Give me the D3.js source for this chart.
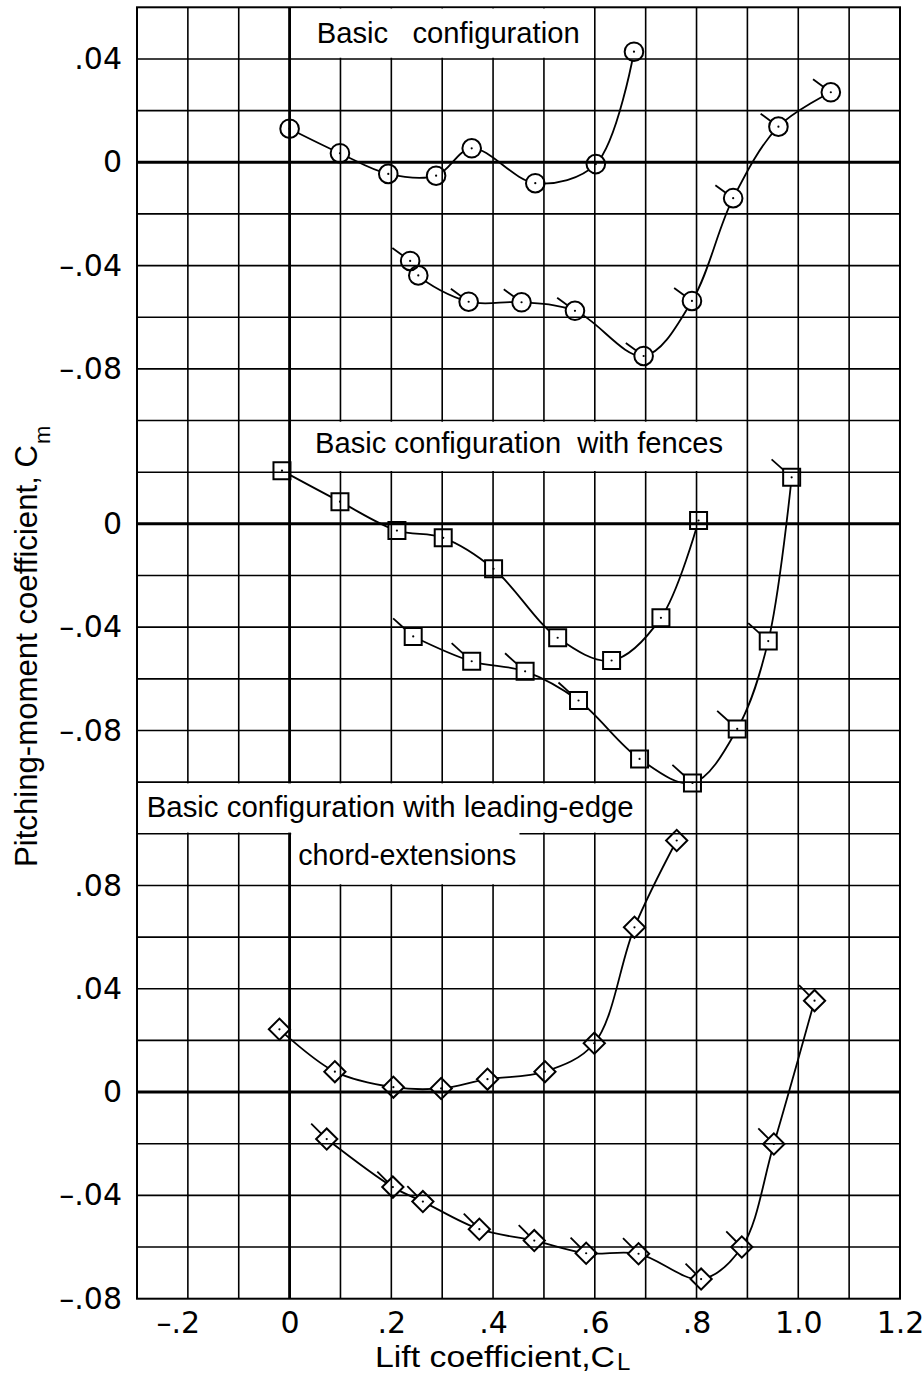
<!DOCTYPE html>
<html>
<head>
<meta charset="utf-8">
<script src="https://cdn.jsdelivr.net/npm/d3@7"></script>
<style>
  body { margin: 0; background: #fff; }
  svg text { fill: #000; }
</style>
</head>
<body>
<svg id="chart" width="924" height="1376"></svg>
<script>
// pitching moment vs lift coefficient, three configurations on one grid

// tick values / labels
const xTicks = [-0.2, 0, 0.2, 0.4, 0.6, 0.8, 1.0, 1.2];
const xTickLabels = ["–.2", "0", ".2", ".4", ".6", ".8", "1.0", "1.2"];

const topTicks = [0.04, 0, -0.04, -0.08];
const topTickLabels = [".04", "0", "–.04", "–.08"];
const midTicks = [0, -0.04, -0.08];
const midTickLabels = ["0", "–.04", "–.08"];
const botTicks = [0.08, 0.04, 0, -0.04, -0.08];
const botTickLabels = [".08", ".04", "0", "–.04", "–.08"];

const panelTitles = [
  "Basic\u00a0\u00a0 configuration",
  "Basic configuration\u00a0 with fences",
  "Basic configuration with leading-edge",
  "chord-extensions"
];

// data: [CL, Cm]
const basicUpper = [[0.000, 0.0130], [0.099, 0.0035], [0.194, -0.0045], [0.288, -0.0052],
  [0.358, 0.0054], [0.483, -0.0081], [0.602, -0.0007], [0.677, 0.0428]];
const basicLower = [[0.237, -0.0382], [0.253, -0.0438], [0.352, -0.0540], [0.456, -0.0542],
  [0.561, -0.0575], [0.696, -0.0750], [0.791, -0.0537], [0.872, -0.0139], [0.961, 0.0138], [1.064, 0.0271]];
const basicLowerFlags = [1, 0, 1, 1, 1, 1, 1, 1, 1, 1];

const fencesUpper = [[-0.015, 0.0206], [0.099, 0.0086], [0.211, -0.0026], [0.302, -0.0054],
  [0.401, -0.0174], [0.527, -0.0441], [0.633, -0.0529], [0.730, -0.0364], [0.804, 0.0013]];
const fencesLower = [[0.243, -0.0436], [0.358, -0.0532], [0.463, -0.0571], [0.568, -0.0684],
  [0.688, -0.0910], [0.792, -0.1003], [0.880, -0.0794], [0.941, -0.0454], [0.987, 0.0180]];
const fencesLowerFlags = [1, 1, 1, 1, 0, 1, 1, 1, 1];

const extUpper = [[-0.020, 0.0243], [0.089, 0.0079], [0.204, 0.0019], [0.298, 0.0014],
  [0.389, 0.0050], [0.502, 0.0079], [0.599, 0.0189], [0.678, 0.0638], [0.761, 0.0974]];
const extLower = [[0.073, -0.0182], [0.203, -0.0368], [0.262, -0.0424], [0.373, -0.0531],
  [0.481, -0.0575], [0.583, -0.0624], [0.686, -0.0626], [0.809, -0.0724], [0.889, -0.0600],
  [0.952, -0.0201], [1.032, 0.0354]];
const extLowerFlags = [1, 1, 1, 1, 1, 1, 1, 1, 1, 1, 1];

const svg = d3.select("#chart");
const width = 924;
const height = 1376;
const plotLeft = 137, plotRight = 900, plotTop = 7.3, plotBottom = 1298.7;

// one x scale, one y scale per panel (all share the same grid)
const x = d3.scaleLinear().domain([-0.3, 1.2]).range([plotLeft, plotRight]);
const yTop = d3.scaleLinear().domain([0.06, -0.44]).range([plotTop, plotBottom]);
const yMid = d3.scaleLinear().domain([0.20, -0.30]).range([plotTop, plotBottom]);
const yBot = d3.scaleLinear().domain([0.42, -0.08]).range([plotTop, plotBottom]);

const textFont = "'Liberation Sans', Arial, sans-serif";
const numFont = "'DejaVu Sans', sans-serif";

// grid
const xGrid = d3.range(-2, 12).map(i => i / 10);
const yGrid = d3.range(1, 25).map(i => 0.06 - i * 0.02);

const grid = svg.append("g").attr("stroke", "#000").attr("stroke-width", 1.6);
grid.selectAll(".vx").data(xGrid).join("line")
  .attr("x1", d => x(d)).attr("x2", d => x(d))
  .attr("y1", plotTop).attr("y2", plotBottom);
grid.selectAll(".hy").data(yGrid).join("line")
  .attr("x1", plotLeft).attr("x2", plotRight)
  .attr("y1", d => yTop(d)).attr("y2", d => yTop(d));

// heavy zero lines
const zeros = svg.append("g").attr("stroke", "#000").attr("stroke-width", 3);
[yTop(0), yMid(0), yBot(0)].forEach(yy => {
  zeros.append("line").attr("x1", plotLeft).attr("x2", plotRight).attr("y1", yy).attr("y2", yy);
});
zeros.append("line").attr("x1", x(0)).attr("x2", x(0)).attr("y1", plotTop).attr("y2", plotBottom)
  .attr("stroke-width", 2.8);

// frame
svg.append("rect")
  .attr("x", plotLeft).attr("y", plotTop)
  .attr("width", plotRight - plotLeft).attr("height", plotBottom - plotTop)
  .attr("fill", "none").attr("stroke", "#000").attr("stroke-width", 2);

// white label boxes knocked out of the grid
const boxes = [
  { x0: 0, x1: 0.6, y0: yTop(0.06), y1: yTop(0.04) },
  { x0: 0, x1: 0.9, y0: yMid(0.04), y1: yMid(0.02) },
  { x0: -0.3, x1: 0.7, y0: yBot(0.12), y1: yBot(0.10) },
  { x0: 0, x1: 0.455, y0: yBot(0.10) - 3, y1: yBot(0.08) }
];
svg.append("g").selectAll("rect").data(boxes).join("rect")
  .attr("x", d => x(d.x0) + 1.6)
  .attr("y", d => d.y0 + 1.2)
  .attr("width", d => x(d.x1) - x(d.x0) - 3.2)
  .attr("height", d => d.y1 - d.y0 - 2.4)
  .attr("fill", "#fff");

// panel titles
const titlePos = [
  { x: 316.7, y: 42.5, len: 263 },
  { x: 315, y: 453.3, len: 408 },
  { x: 146.7, y: 816.7, len: 487 },
  { x: 298.3, y: 865, len: 218 }
];
svg.append("g").selectAll("text").data(panelTitles).join("text")
  .attr("x", (d, i) => titlePos[i].x)
  .attr("y", (d, i) => titlePos[i].y)
  .attr("textLength", (d, i) => titlePos[i].len)
  .attr("lengthAdjust", "spacingAndGlyphs")
  .style("font-family", textFont)
  .style("font-size", "30px")
  .text(d => d);

// markers
const shapes = {
  circle:  { path: d3.symbol(d3.symbolCircle, Math.PI * 9.3 * 9.3)(), rot: 0,  fIn: 9.3, fOut: 22, ang: 36 },
  square:  { path: d3.symbol(d3.symbolSquare, 17 * 17)(),            rot: 0,  fIn: 11.5, fOut: 27, ang: 42 },
  diamond: { path: d3.symbol(d3.symbolSquare, 15 * 15)(),            rot: 45, fIn: 7.5, fOut: 22, ang: 45 }
};

const series = [
  { pts: basicUpper,  flags: null,             y: yTop, shape: "circle" },
  { pts: basicLower,  flags: basicLowerFlags,  y: yTop, shape: "circle" },
  { pts: fencesUpper, flags: null,             y: yMid, shape: "square" },
  { pts: fencesLower, flags: fencesLowerFlags, y: yMid, shape: "square" },
  { pts: extUpper,    flags: null,             y: yBot, shape: "diamond" },
  { pts: extLower,    flags: extLowerFlags,    y: yBot, shape: "diamond" }
];

// mask so the fairing curves stop at the symbol outlines
const mask = svg.append("defs").append("mask")
  .attr("id", "holes")
  .attr("maskUnits", "userSpaceOnUse")
  .attr("x", 0).attr("y", 0).attr("width", width).attr("height", height);
mask.append("rect").attr("width", width).attr("height", height).attr("fill", "#fff");
series.forEach(s => {
  const sh = shapes[s.shape];
  s.pts.forEach(p => {
    mask.append("path")
      .attr("d", sh.path)
      .attr("transform", `translate(${x(p[0])},${s.y(p[1])}) rotate(${sh.rot})`)
      .attr("fill", "#000");
  });
});

// curves
const curves = svg.append("g").attr("mask", "url(#holes)");
series.forEach(s => {
  const line = d3.line()
    .x(d => x(d[0]))
    .y(d => s.y(d[1]))
    .curve(d3.curveCatmullRom.alpha(0.5));
  curves.append("path")
    .attr("d", line(s.pts))
    .attr("fill", "none")
    .attr("stroke", "#000")
    .attr("stroke-width", 1.8);
});

// symbols, centre dots, flags
series.forEach(s => {
  const sh = shapes[s.shape];
  const a = sh.ang * Math.PI / 180;
  const g = svg.append("g");
  const m = g.selectAll("g").data(s.pts).join("g")
    .attr("transform", d => `translate(${x(d[0])},${s.y(d[1])})`);
  m.append("path")
    .attr("d", sh.path)
    .attr("transform", `rotate(${sh.rot})`)
    .attr("fill", "none")
    .attr("stroke", "#000")
    .attr("stroke-width", 2);
  m.append("circle").attr("r", 1.1).attr("fill", "#000");
  if (s.flags) {
    m.filter((d, i) => s.flags[i])
      .append("line")
      .attr("x1", -Math.cos(a) * sh.fIn).attr("y1", -Math.sin(a) * sh.fIn)
      .attr("x2", -Math.cos(a) * sh.fOut).attr("y2", -Math.sin(a) * sh.fOut)
      .attr("stroke", "#000")
      .attr("stroke-width", 1.8);
  }
});

// y tick labels per panel
function yLabels(scale, ticks, labels) {
  const g = svg.append("g")
    .attr("transform", `translate(${plotLeft},0)`)
    .call(d3.axisLeft(scale).tickValues(ticks).tickFormat((d, i) => labels[i]).tickSize(0).tickPadding(15));
  g.select(".domain").remove();
  g.selectAll("text").style("font-family", numFont).style("font-size", "30px");
}
yLabels(yTop, topTicks, topTickLabels);
yLabels(yMid, midTicks, midTickLabels);
yLabels(yBot, botTicks, botTickLabels);

// x tick labels
const xAxis = svg.append("g")
  .attr("transform", `translate(0,${plotBottom})`)
  .call(d3.axisBottom(x).tickValues(xTicks).tickFormat((d, i) => xTickLabels[i]).tickSize(0).tickPadding(13));
xAxis.select(".domain").remove();
xAxis.selectAll("text")
  .style("font-family", numFont).style("font-size", "30px")
  .attr("dx", d => d < 0 ? -10 : 0);

// axis titles
svg.append("text")
  .attr("x", 375).attr("y", 1367)
  .attr("textLength", 240).attr("lengthAdjust", "spacingAndGlyphs")
  .style("font-family", textFont).style("font-size", "30px")
  .text("Lift coefficient,C");
svg.append("text")
  .attr("x", 617).attr("y", 1370)
  .style("font-family", textFont).style("font-size", "24px")
  .text("L");

svg.append("text")
  .attr("transform", "translate(37,867) rotate(-90)")
  .attr("textLength", 422).attr("lengthAdjust", "spacingAndGlyphs")
  .style("font-family", textFont).style("font-size", "31px")
  .text("Pitching-moment coefficient, C");
svg.append("text")
  .attr("transform", "translate(50,444) rotate(-90)")
  .style("font-family", textFont).style("font-size", "22px")
  .text("m");
</script>
</body>
</html>
